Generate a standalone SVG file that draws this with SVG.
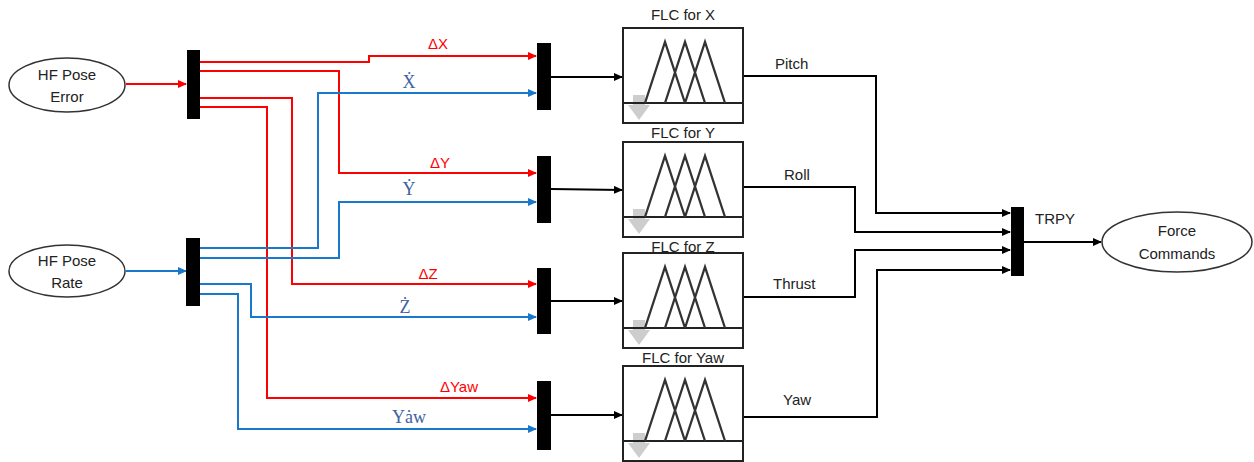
<svg xmlns="http://www.w3.org/2000/svg" width="1254" height="462" viewBox="0 0 1254 462">
<style>
.t{font-family:"Liberation Sans",Arial,sans-serif;font-size:15px;fill:#222}
.tc{text-anchor:middle}
.lr{font-family:"Liberation Sans",Arial,sans-serif;font-size:15px;fill:#ff0000;text-anchor:middle}
.lb{font-family:"Liberation Serif","DejaVu Serif",serif;font-size:18px;fill:#41619f;text-anchor:middle}
.r{fill:none;stroke:#ff0000;stroke-width:2}
.b{fill:none;stroke:#1878cc;stroke-width:2}
.k{fill:none;stroke:#000;stroke-width:2}
.mux{fill:#000}
.ell{fill:#fff;stroke:#333;stroke-width:1.5}
.box{fill:#fff;stroke:#222;stroke-width:2}
.tri{fill:none;stroke:#333;stroke-width:2.3;stroke-linejoin:miter}
.garr{fill:#c4c4c4;opacity:0.85}
</style>
<defs>
<marker id="ar" markerWidth="9" markerHeight="8" refX="8" refY="4" orient="auto" markerUnits="userSpaceOnUse"><path d="M0,0 L9,4 L0,8 Z" fill="#ff0000"/></marker>
<marker id="ab" markerWidth="9" markerHeight="8" refX="8" refY="4" orient="auto" markerUnits="userSpaceOnUse"><path d="M0,0 L9,4 L0,8 Z" fill="#1878cc"/></marker>
<marker id="ak" markerWidth="9" markerHeight="8" refX="8" refY="4" orient="auto" markerUnits="userSpaceOnUse"><path d="M0,0 L9,4 L0,8 Z" fill="#000"/></marker>
<g id="flc">
<rect class="box" x="0" y="0" width="120" height="95"/>
<path class="garr" d="M10,67 L22,67 L22,77 L27,77 L16,92 L5,77 L10,77 Z"/>
<line x1="0" y1="75" x2="120" y2="75" stroke="#222" stroke-width="2"/>
<path class="tri" d="M22,75 L42,14 L62,75 M42,75 L62,14 L82,75 M62,75 L82,14 L102,75"/>
</g>
</defs>

<g id="connectors">
<line class="r" x1="126" y1="84" x2="186" y2="84" marker-end="url(#ar)"/>
<line class="b" x1="126" y1="271" x2="186" y2="271" marker-end="url(#ab)"/>
<polyline class="r" points="200,62 369,62 369,56 536,56" marker-end="url(#ar)"/>
<polyline class="r" points="200,71 339,71 339,173 536,173" marker-end="url(#ar)"/>
<polyline class="r" points="200,98 292,98 292,284 536,284" marker-end="url(#ar)"/>
<polyline class="r" points="200,107 267,107 267,398 536,398" marker-end="url(#ar)"/>
<polyline class="b" points="200,248 318,248 318,93 536,93" marker-end="url(#ab)"/>
<polyline class="b" points="200,258 339,258 339,202 536,202" marker-end="url(#ab)"/>
<polyline class="b" points="200,284 251,284 251,317 536,317" marker-end="url(#ab)"/>
<polyline class="b" points="200,294 238,294 238,429 536,429" marker-end="url(#ab)"/>
<line class="k" x1="551" y1="77" x2="622" y2="77" marker-end="url(#ak)"/>
<line class="k" x1="551" y1="189" x2="622" y2="190" marker-end="url(#ak)"/>
<line class="k" x1="551" y1="301" x2="622" y2="301" marker-end="url(#ak)"/>
<line class="k" x1="551" y1="415" x2="622" y2="415" marker-end="url(#ak)"/>
<polyline class="k" points="743,76 876,76 876,213 1010,213" marker-end="url(#ak)"/>
<polyline class="k" points="743,187 855,187 855,232 1010,232" marker-end="url(#ak)"/>
<polyline class="k" points="743,297 855,297 855,250 1010,250" marker-end="url(#ak)"/>
<polyline class="k" points="743,417 877,417 877,270 1010,270" marker-end="url(#ak)"/>
<line class="k" x1="1024" y1="242" x2="1101" y2="242" marker-end="url(#ak)"/>
</g>

<g id="labels">
<text class="lr" x="438" y="49">ΔX</text>
<text class="lb" x="409" y="88">Ẋ</text>
<text class="lr" x="440" y="168">ΔY</text>
<text class="lb" x="409" y="195">Ẏ</text>
<text class="lr" x="428" y="279">ΔZ</text>
<text class="lb" x="405" y="313">Ż</text>
<text class="lr" x="459" y="392">ΔYaw</text>
<text class="lb" x="409" y="423">Yȧw</text>
<text class="t" x="775" y="69">Pitch</text>
<text class="t" x="784" y="180">Roll</text>
<text class="t" x="773" y="289">Thrust</text>
<text class="t" x="783" y="405">Yaw</text>
</g>

<g id="hf-pose-error">
<ellipse class="ell" cx="67" cy="85" rx="58" ry="27"/>
<text class="t tc" x="67" y="80">HF Pose</text>
<text class="t tc" x="67" y="102">Error</text>
</g>
<g id="hf-pose-rate">
<ellipse class="ell" cx="67" cy="271" rx="58" ry="26"/>
<text class="t tc" x="67" y="266">HF Pose</text>
<text class="t tc" x="67" y="288">Rate</text>
</g>
<g id="mux-error"><rect class="mux" x="187" y="50" width="13" height="69"/></g>
<g id="mux-rate"><rect class="mux" x="186" y="238" width="14" height="68"/></g>
<g id="mux-x"><rect class="mux" x="537" y="43" width="14" height="67"/></g>
<g id="mux-y"><rect class="mux" x="537" y="156" width="14" height="67"/></g>
<g id="mux-z"><rect class="mux" x="537" y="268" width="14" height="66"/></g>
<g id="mux-yaw"><rect class="mux" x="537" y="381" width="14" height="69"/></g>

<g id="flc-x"><text class="t tc" x="683" y="20">FLC for X</text><use href="#flc" x="623" y="28"/></g>
<g id="flc-y"><text class="t tc" x="683" y="138">FLC for Y</text><use href="#flc" x="623" y="142"/></g>
<g id="flc-z"><text class="t tc" x="683" y="252">FLC for Z</text><use href="#flc" x="623" y="253"/></g>
<g id="flc-yaw"><text class="t tc" x="683" y="363">FLC for Yaw</text><use href="#flc" x="623" y="366"/></g>

<g id="mux-trpy"><rect class="mux" x="1011" y="207" width="13" height="69"/>
<text class="t" x="1035" y="224">TRPY</text></g>
<g id="force-commands">
<ellipse class="ell" cx="1177" cy="242" rx="75" ry="30"/>
<text class="t tc" x="1177" y="236">Force</text>
<text class="t tc" x="1177" y="259">Commands</text>
</g>
</svg>
